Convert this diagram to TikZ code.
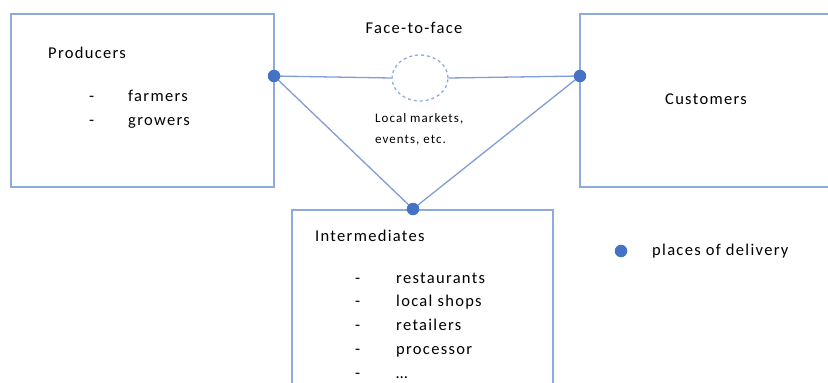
\documentclass[tikz,border=0pt]{standalone}
\usepackage{fontspec}
\setmainfont{Carlito}[LetterSpace=8]
\usetikzlibrary{shapes.geometric}
\definecolor{boxblue}{HTML}{8FAADC}
\definecolor{dotblue}{HTML}{4472C4}
\definecolor{lineblue}{HTML}{7F9DD6}
\begin{document}
\begin{tikzpicture}[x=1pt,y=-1pt,
  boxline/.style={draw=boxblue, line width=1.3pt},
  conn/.style={draw=lineblue, line width=1.3pt},
  deliv/.style={circle, fill=dotblue, inner sep=0pt, minimum size=12.5pt},
  lbl/.style={font=\fontsize{16.5}{20}\selectfont, inner sep=0pt, text height=11pt, text depth=2pt},
  small/.style={font=\fontsize{13}{21}\selectfont, inner sep=0pt, align=left}]
\useasboundingbox (0,0) rectangle (828,383);
\begin{scope}
\clip (0,0) rectangle (828,383);
\draw[boxline] (11,14) rectangle (274,187);
\draw[boxline] (580,14) rectangle (840,187);
\draw[boxline] (292,210) rectangle (553,400);
\end{scope}
% texts
\node[lbl, anchor=west] (prod) at (48,54) {Producers};
\node[lbl, anchor=west] (d1) at (89,97) {-};
\node[lbl, anchor=west] (farm) at (128,97) {farmers};
\node[lbl, anchor=west] (d2) at (89,121) {-};
\node[lbl, anchor=west] (grow) at (128,121) {growers};
\node[lbl] (cust) at (706,100) {Customers};
\node[lbl] (f2f) at (414,29) {Face-to-face};
\node[small, anchor=west] (local) at (375,129) {Local markets,\\events, etc.};
\node[lbl, anchor=west] (inter) at (315,237) {Intermediates};
\foreach \y/\t [count=\i] in {279/restaurants,302/local shops,326/retailers,350/processor}{
  \node[lbl, anchor=west] (dash\i) at (355,\y) {-};
  \node[lbl, anchor=west] (item\i) at (396,\y) {\t};
}
\node[lbl, anchor=west] (dash5) at (355,374) {-};
\node[lbl, anchor=west] (item5) at (396,374) {\ldots};
% connectors
\node[draw=boxblue, dashed, line width=1.3pt, ellipse, minimum width=56pt, minimum height=46pt, inner sep=0pt] (circ) at (420,78) {};
\coordinate (pdot) at (274,76);
\coordinate (cdot) at (580,76);
\coordinate (idot) at (413,209);
\draw[conn] (pdot) -- (circ.west);
\draw[conn] (circ.east) -- (cdot);
\draw[conn] (pdot) -- (idot);
\draw[conn] (cdot) -- (idot);
\node[deliv] (pd) at (pdot) {};
\node[deliv] (cd) at (cdot) {};
\node[deliv] (id) at (idot) {};
% legend
\node[deliv] (leg) at (621,251) {};
\node[lbl, anchor=west] (legt) at (652,251) {places of delivery};
\end{tikzpicture}
\end{document}
